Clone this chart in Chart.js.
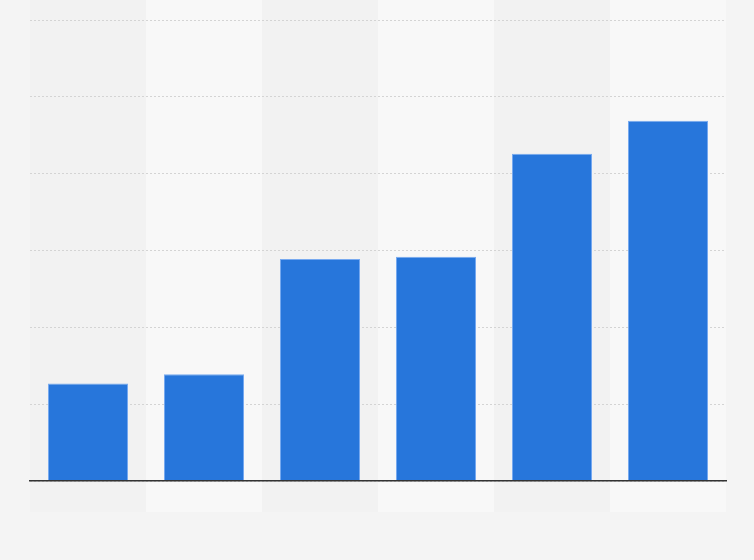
<!DOCTYPE html>
<html>
<head>
<meta charset="utf-8">
<script src="https://cdn.jsdelivr.net/npm/chart.js@4/dist/chart.umd.min.js"></script>
<style>
  html, body { margin: 0; padding: 0; background: #f4f4f4; }
  #wrap { width: 754px; height: 560px; }
</style>
</head>
<body>
<div id="wrap"><canvas id="chart" width="754" height="560"></canvas></div>
<script>
// categories (no labels are shown in the picture)
const categories = ['1', '2', '3', '4', '5', '6'];
// bar values (axis 0..6)
const values = [1.27, 1.39, 2.89, 2.92, 4.26, 4.69];
// y ticks (labels hidden)
const yTicks = [0, 1, 2, 3, 4, 5, 6];

// alternating column bands behind the plot
const bandPlugin = {
  id: 'bands',
  beforeDraw(chart) {
    const { ctx, chartArea, scales } = chart;
    const x = scales.x;
    const step = (chartArea.right - chartArea.left) / categories.length;
    ctx.save();
    for (let i = 0; i < categories.length; i++) {
      const left = x.getPixelForValue(i) - step / 2;
      ctx.fillStyle = i % 2 === 0 ? '#f2f2f2' : '#f8f8f8';
      ctx.fillRect(left, 0, step, 512);
    }
    ctx.restore();
  }
};

new Chart(document.getElementById('chart'), {
  type: 'bar',
  data: {
    labels: categories,
    datasets: [{
      data: values,
      backgroundColor: '#2776db',
      borderColor: 'rgba(120,170,240,1)',
      borderWidth: { top: 1, left: 1, right: 1, bottom: 0 },
      categoryPercentage: 1,
      barPercentage: 0.69
    }]
  },
  options: {
    responsive: false,
    animation: false,
    layout: { padding: { left: 30, right: 28, top: 20, bottom: 79 } },
    plugins: { legend: { display: false }, tooltip: { enabled: false } },
    scales: {
      x: {
        grid: { display: false, drawTicks: false },
        border: { display: true, color: '#333333', width: 1.5, z: 2 },
        ticks: { display: false }
      },
      y: {
        min: yTicks[0],
        max: yTicks[yTicks.length - 1],
        afterBuildTicks(scale) { scale.ticks = yTicks.map(v => ({ value: v })); },
        grid: { color: '#d4d4d4', lineWidth: 1, drawTicks: false },
        border: { display: false, dash: [2, 2] },
        ticks: { display: false }
      }
    }
  },
  plugins: [bandPlugin]
});
</script>
</body>
</html>
